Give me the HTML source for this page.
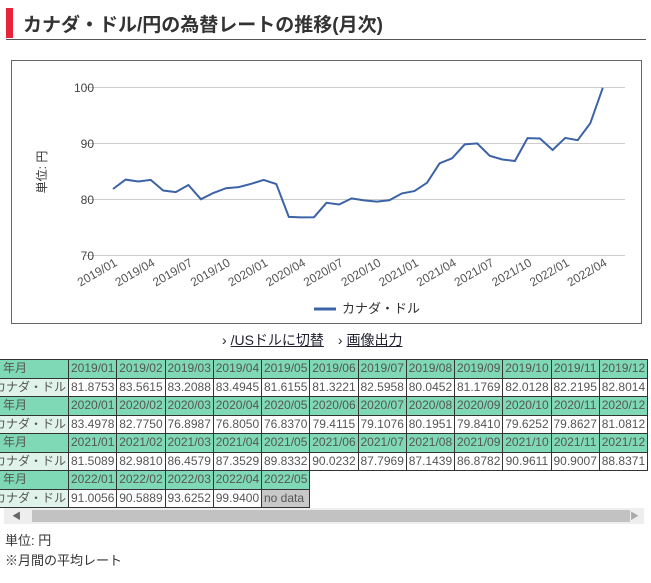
<!DOCTYPE html>
<html><head><meta charset="utf-8"><style>
body{margin:0;width:651px;height:583px;overflow:hidden;background:#fff;font-family:"Liberation Sans","Noto Sans CJK JP",sans-serif;color:#333;position:relative}
.t{position:absolute;left:6px;top:8px;width:640px;height:31px;border-bottom:1px solid #555}
.t .bar{position:absolute;left:0;top:0;width:7px;height:30px;background:#e8243a}
.t span{position:absolute;left:17px;top:2px;font-size:19px;font-weight:bold;color:#333}
.box{position:absolute;left:11px;top:60px;width:629px;height:262px;border:1px solid #666}
table{position:absolute;left:-30px;top:359px;border-collapse:collapse;font-size:12px;table-layout:fixed;width:677px}
td{border:1px solid #333;height:17.5px;padding:0 2px;white-space:nowrap;overflow:hidden;color:#555;line-height:17px;text-align:center}
td.h{background:#7fd9b6}
td.f{background:#7fd9b6;text-align:left;padding-left:32px}
td.g{background:#dff3ea;text-align:right}
td.n{background:#c8c8c8;text-align:left}
.links{position:absolute;top:330px;left:222px;font-size:14px;color:#223}
.links a{color:#223;text-decoration:underline;margin-right:14px}
.sb{position:absolute;left:4px;top:508px;width:640px;height:16px;background:#eee}
.sb div{position:absolute;left:28px;top:2px;width:598px;height:12px;background:#c2c2c2}
</style></head><body>
<div class="t"><div class="bar"></div><span>カナダ・ドル/円の為替レートの推移(月次)</span></div>
<div class="box"></div>
<svg style="position:absolute;left:0;top:0" width="651" height="330">
<g stroke="#ccc" stroke-width="1">
<line x1="85" x2="625" y1="87.5" y2="87.5"/><line x1="85" x2="625" y1="143.5" y2="143.5"/>
<line x1="85" x2="625" y1="199.5" y2="199.5"/><line x1="85" x2="625" y1="255.5" y2="255.5"/></g>
<g font-size="12" fill="#444" text-anchor="end">
<text x="94" y="92">100</text><text x="94" y="148">90</text><text x="94" y="204">80</text><text x="94" y="260">70</text></g>
<text transform="translate(46,172) rotate(-90)" font-size="12" fill="#333" text-anchor="middle">単位: 円</text>
<polyline id="pl" fill="none" stroke="#3c63a6" stroke-width="2"/>
<g id="xl" font-size="12" fill="#555" text-anchor="end"></g>
<line x1="314" x2="336" y1="309" y2="309" stroke="#3c63a6" stroke-width="3"/>
<text x="342" y="313" font-size="13" fill="#333">カナダ・ドル</text>
</svg>
<div class="links">› <a>/USドルに切替</a>› <a>画像出力</a></div>
<table id="tb"><colgroup><col style="width:98px"><col span="12" style="width:48.25px"></colgroup></table>
<div class="sb"><div></div><span style="position:absolute;left:8px;top:1px;font-size:9px;color:#666">◀</span><span style="position:absolute;right:5px;top:1px;font-size:9px;color:#aaa">▶</span></div>
<div style="position:absolute;left:5px;top:530px;font-size:13px">単位: 円</div>
<div style="position:absolute;left:5px;top:550px;font-size:13px">※月間の平均レート</div>
<script>
var d=[81.8753,83.5615,83.2088,83.4945,81.6155,81.3221,82.5958,80.0452,81.1769,82.0128,82.2195,82.8014,83.4978,82.7750,76.8987,76.8050,76.8370,79.4115,79.1076,80.1951,79.8410,79.6252,79.8627,81.0812,81.5089,82.9810,86.4579,87.3529,89.8332,90.0232,87.7969,87.1439,86.8782,90.9611,90.9007,88.8371,91.0056,90.5889,93.6252,99.9400];
var p=d.map(function(v,i){return (113+i*12.56).toFixed(1)+","+(87.5+(100-v)*5.6).toFixed(1)}).join(" ");
document.getElementById("pl").setAttribute("points",p);
var xl="",lab=["2019/01","2019/04","2019/07","2019/10","2020/01","2020/04","2020/07","2020/10","2021/01","2021/04","2021/07","2021/10","2022/01","2022/04"];
lab.forEach(function(l,k){var x=113+k*3*12.56+5;xl+='<text transform="translate('+x+',265) rotate(-30)">'+l+'</text>'});
document.getElementById("xl").innerHTML=xl;
var h="";for(var y=0;y<4;y++){h+='<tr><td class="f">年月</td>';var n=y<3?12:5;
for(var m=0;m<12;m++){h+=m<n?'<td class="h">'+(2019+y)+'/'+(m<9?'0':'')+(m+1)+'</td>':'<td style="border:none"></td>'}
h+='</tr><tr><td class="g">カナダ・ドル</td>';
for(var m=0;m<12;m++){var i=y*12+m;h+=i<40?'<td>'+d[i].toFixed(4)+'</td>':(m==4?'<td class="n">no data</td>':'<td style="border:none"></td>')}
h+='</tr>'}
document.getElementById("tb").insertAdjacentHTML("beforeend",h);
</script>
</body></html>
